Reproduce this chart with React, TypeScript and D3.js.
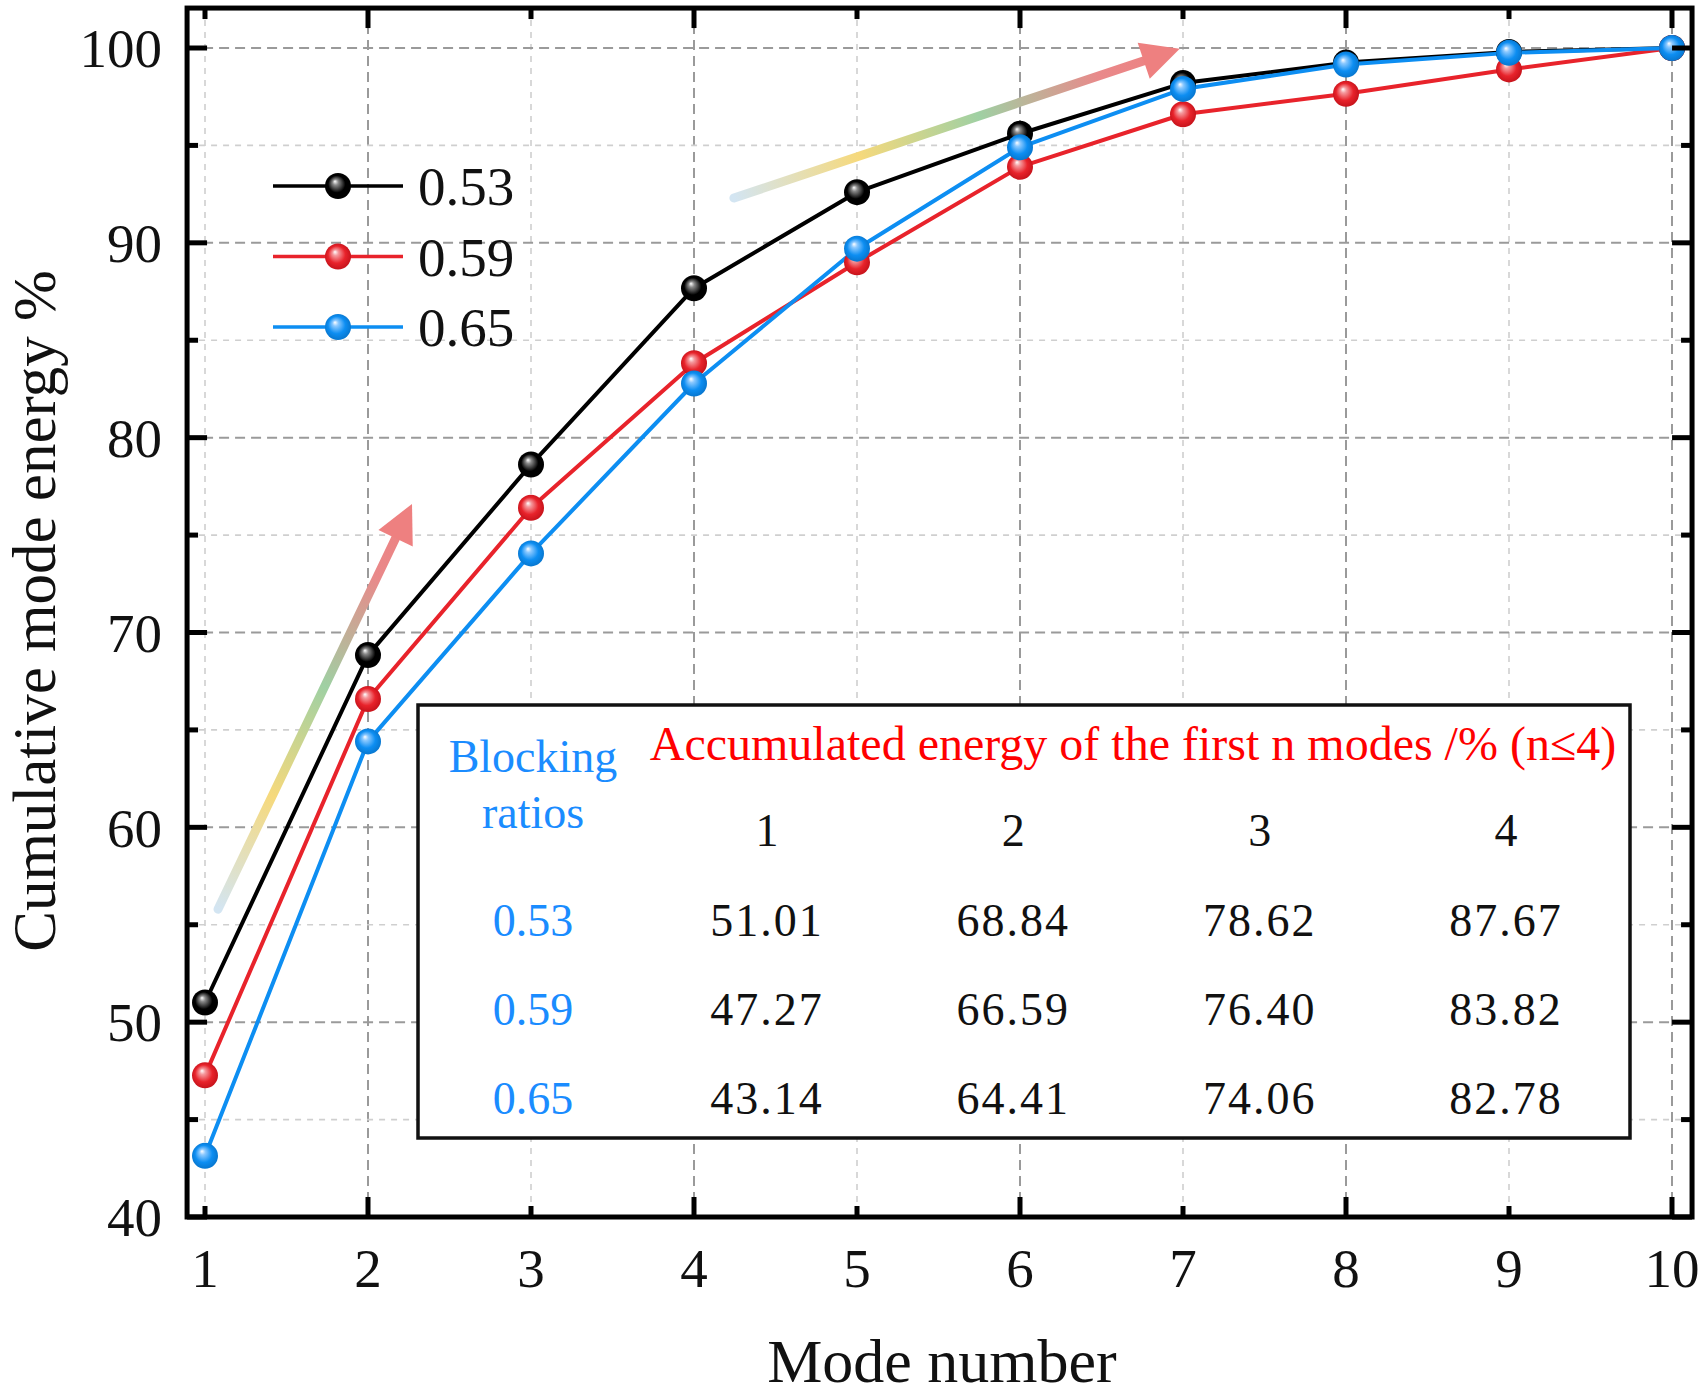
import React from "react"
import * as d3 from "d3"

// data (first four modes are from the inset table)
const modes = [1, 2, 3, 4, 5, 6, 7, 8, 9, 10]
const ratioLabels = ["0.53", "0.59", "0.65"]
const energy053 = [51.01, 68.84, 78.62, 87.67, 92.6, 95.6, 98.2, 99.25, 99.8, 100]
const energy059 = [47.27, 66.59, 76.4, 83.82, 89.0, 93.9, 96.6, 97.65, 98.9, 100]
const energy065 = [43.14, 64.41, 74.06, 82.78, 89.7, 94.9, 97.9, 99.15, 99.75, 100]
const seriesColors = ["#000000", "#e8232b", "#0d8ef2"]
const yMajorTicks = [40, 50, 60, 70, 80, 90, 100]
const yMinorTicks = [45, 55, 65, 75, 85, 95]
const tableModes = [1, 2, 3, 4]

const font = "'Liberation Serif', 'Times New Roman', serif"

function sphere(id, base, light, dark) {
  return (
    <radialGradient id={id} cx="0.5" cy="0.5" r="0.55" fx="0.38" fy="0.32">
      <stop offset="0%" stopColor="#ffffff" />
      <stop offset="20%" stopColor={light} />
      <stop offset="60%" stopColor={base} />
      <stop offset="100%" stopColor={dark} />
    </radialGradient>
  )
}

export default function App() {
  const width = 1704
  const height = 1396

  const x = d3.scaleLinear().domain([1, 10]).range([205, 1672])
  const y = d3.scaleLinear().domain([40, 100]).range([1217, 48])

  const left = x(0.89)
  const right = x(10.123)
  const top = y(102.05)
  const bottom = y(40)

  const series = [energy053, energy059, energy065]
  const line = d3
    .line<number>()
    .x((d, i) => x(modes[i]))
    .y(d => y(d))

  const arrows = [
    { id: "arrowLow", from: [1.08, 55.8], to: [2.27, 76.6] },
    { id: "arrowHigh", from: [4.245, 92.3], to: [6.98, 99.96] }
  ]

  function arrow(a) {
    const x0 = x(a.from[0])
    const y0 = y(a.from[1])
    const x1 = x(a.to[0])
    const y1 = y(a.to[1])
    const len = Math.hypot(x1 - x0, y1 - y0)
    const ux = (x1 - x0) / len
    const uy = (y1 - y0) / len
    const headL = 38
    const headW = 19
    const bx = x1 - ux * headL
    const by = y1 - uy * headL
    const pts = [
      [x1, y1],
      [bx - uy * headW, by + ux * headW],
      [bx + uy * headW, by - ux * headW]
    ]
    return (
      <g key={a.id}>
        <defs>
          <linearGradient id={a.id} gradientUnits="userSpaceOnUse" x1={x0} y1={y0} x2={x1} y2={y1}>
            <stop offset="0%" stopColor="#d3e5f2" />
            <stop offset="28%" stopColor="#f6d97c" />
            <stop offset="55%" stopColor="#9fd0a3" />
            <stop offset="82%" stopColor="#e9898a" />
            <stop offset="100%" stopColor="#ee7f7f" />
          </linearGradient>
        </defs>
        <line x1={x0} y1={y0} x2={bx + ux * 2} y2={by + uy * 2} stroke={`url(#${a.id})`} strokeWidth={9} strokeLinecap="round" />
        <polygon points={pts.map(p => p.join(",")).join(" ")} fill="#ee8080" />
      </g>
    )
  }

  const markerIds = ["ballBlack", "ballRed", "ballBlue"]

  // inset table layout
  const tb = { x0: 418, x1: 1630, y0: 705, y1: 1138 }
  const ratioColX = 533
  const colX = d3.scaleLinear().domain([1, 4]).range([767, 1506])
  const rowY = d3.scaleLinear().domain([0, 2]).range([936, 1114])

  return (
    <svg
      width={width}
      height={height}
      style={{ position: "absolute", left: 0, top: 0, background: "#fff" }}
      fontFamily={font}
    >
      <defs>
        {sphere("ballBlack", "#000000", "#8a8a8a", "#000000")}
        {sphere("ballRed", "#e8232b", "#f59a9e", "#c01018")}
        {sphere("ballBlue", "#0d8ef2", "#8cc9ff", "#0672c8")}
      </defs>
      <rect x={0} y={0} width={width} height={height} fill="#fff" />

      {/* grid */}
      <g>
        {modes.map(m => (
          <line
            key={"gx" + m}
            x1={x(m)}
            x2={x(m)}
            y1={top}
            y2={bottom}
            stroke={m % 2 === 0 ? "#9a9a9a" : "#cfcfcf"}
            strokeWidth={m % 2 === 0 ? 2 : 1.6}
            strokeDasharray={m % 2 === 0 ? "10 6" : "6 6"}
          />
        ))}
        {yMajorTicks.concat(yMinorTicks).map(v => (
          <line
            key={"gy" + v}
            x1={left}
            x2={right}
            y1={y(v)}
            y2={y(v)}
            stroke={v % 10 === 0 ? "#9a9a9a" : "#cfcfcf"}
            strokeWidth={v % 10 === 0 ? 2 : 1.6}
            strokeDasharray={v % 10 === 0 ? "10 6" : "6 6"}
          />
        ))}
      </g>

      {/* annotation arrows */}
      {arrows.map(arrow)}

      {/* series */}
      {series.map((s, i) => (
        <path key={"l" + i} d={line(s)} fill="none" stroke={seriesColors[i]} strokeWidth={4} strokeLinejoin="round" />
      ))}
      {series.map((s, i) => (
        <g key={"m" + i}>
          {s.map((v, j) => (
            <circle key={j} cx={x(modes[j])} cy={y(v)} r={13} fill={`url(#${markerIds[i]})`} />
          ))}
        </g>
      ))}

      {/* legend */}
      {ratioLabels.map((lab, i) => {
        const ly = 186 + i * 70.5
        return (
          <g key={"lg" + i}>
            <line x1={273} x2={403} y1={ly} y2={ly} stroke={seriesColors[i]} strokeWidth={3.5} />
            <circle cx={338} cy={ly} r={13} fill={`url(#${markerIds[i]})`} />
            <text x={418} y={ly + 19} fontSize={55} fill="#111">
              {lab}
            </text>
          </g>
        )
      })}

      {/* inset table */}
      <rect x={tb.x0} y={tb.y0} width={tb.x1 - tb.x0} height={tb.y1 - tb.y0} fill="#fff" stroke="#111" strokeWidth={3.5} />
      <text x={ratioColX} y={772} fontSize={46} fill="#1a8cff" textAnchor="middle">
        Blocking
      </text>
      <text x={ratioColX} y={828} fontSize={46} fill="#1a8cff" textAnchor="middle">
        ratios
      </text>
      <text x={1133} y={760} fontSize={48} fill="#ff0000" textAnchor="middle">
        Accumulated energy of the first n modes /% (n≤4)
      </text>
      {tableModes.map(m => (
        <text key={"tc" + m} x={colX(m)} y={846} fontSize={46} fill="#111" textAnchor="middle">
          {m}
        </text>
      ))}
      {series.map((s, i) => (
        <g key={"tr" + i}>
          <text x={ratioColX} y={rowY(i)} fontSize={46} fill="#1a8cff" textAnchor="middle">
            {ratioLabels[i]}
          </text>
          {tableModes.map(m => (
            <text
              key={m}
              x={colX(m)}
              y={rowY(i)}
              fontSize={46}
              fill="#111"
              textAnchor="middle"
              letterSpacing={2}
            >
              {s[m - 1].toFixed(2)}
            </text>
          ))}
        </g>
      ))}

      {/* frame and ticks */}
      <rect x={left} y={top} width={right - left} height={bottom - top} fill="none" stroke="#000" strokeWidth={5} />
      {modes.map(m => {
        const len = m % 2 === 0 ? 20 : 11
        return (
          <g key={"tx" + m}>
            <line x1={x(m)} x2={x(m)} y1={bottom} y2={bottom - len} stroke="#000" strokeWidth={5} />
            <line x1={x(m)} x2={x(m)} y1={top} y2={top + len} stroke="#000" strokeWidth={5} />
            <text x={x(m)} y={1287} fontSize={55} textAnchor="middle" fill="#111">
              {m}
            </text>
          </g>
        )
      })}
      {yMajorTicks.concat(yMinorTicks).map(v => {
        const len = v % 10 === 0 ? 20 : 11
        return (
          <g key={"ty" + v}>
            <line x1={left} x2={left + len} y1={y(v)} y2={y(v)} stroke="#000" strokeWidth={5} />
            <line x1={right} x2={right - len} y1={y(v)} y2={y(v)} stroke="#000" strokeWidth={5} />
          </g>
        )
      })}
      {yMajorTicks.map(v => (
        <text key={"yl" + v} x={162} y={y(v)} dy="0.35em" fontSize={55} textAnchor="end" fill="#111">
          {v}
        </text>
      ))}

      {/* axis titles */}
      <text x={942} y={1382} fontSize={62} textAnchor="middle" fill="#111">
        Mode number
      </text>
      <text transform="translate(55,611) rotate(-90)" fontSize={61} textAnchor="middle" fill="#111">
        Cumulative mode energy %
      </text>
    </svg>
  )
}
